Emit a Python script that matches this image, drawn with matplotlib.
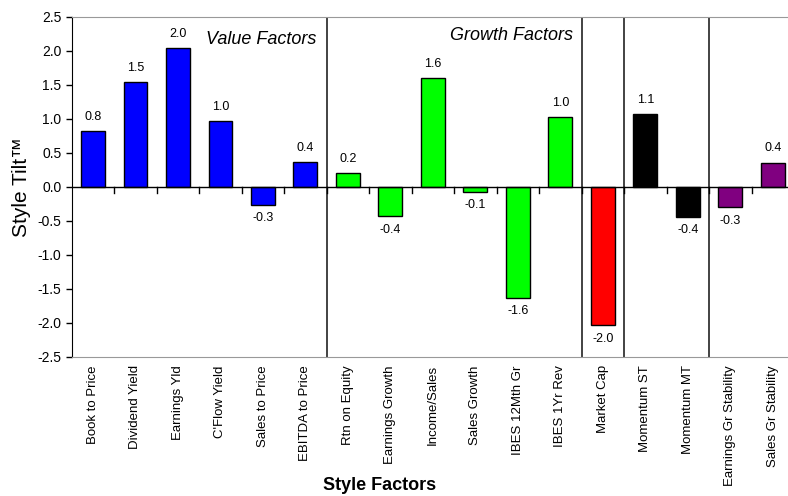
import matplotlib
matplotlib.use('Agg')
from matplotlib import pyplot as plt

factors = [
    'Book to Price', 'Dividend Yield', 'Earnings Yld', "C'Flow Yield",
    'Sales to Price', 'EBITDA to Price', 'Rtn on Equity', 'Earnings Growth',
    'Income/Sales', 'Sales Growth', 'IBES 12Mth Gr', 'IBES 1Yr Rev',
    'Market Cap', 'Momentum ST', 'Momentum MT', 'Earnings Gr Stability',
    'Sales Gr Stability',
]
tilts = [0.82, 1.54, 2.04, 0.97, -0.26, 0.37, 0.21, -0.43, 1.60, -0.07,
         -1.63, 1.03, -2.03, 1.07, -0.44, -0.30, 0.36]
group_sizes = [6, 6, 1, 2, 2]
group_colors = ['#0000ff', '#00ff00', '#ff0000', '#000000', '#800080']
y_ticks = [2.5, 2.0, 1.5, 1.0, 0.5, 0.0, -0.5, -1.0, -1.5, -2.0, -2.5]

plt.rcParams['font.family'] = ['Liberation Sans', 'DejaVu Sans']

colors = []
for size, c in zip(group_sizes, group_colors):
    colors += [c] * size

fig = plt.figure(figsize=(7.88, 4.96), dpi=100)
ax = fig.add_axes([71.7 / 788, 139 / 496, (794 - 71.7) / 788, 340 / 496])

x = list(range(len(factors)))
ax.bar(x, tilts, width=0.56, color=colors, edgecolor='black', linewidth=1, zorder=3)

for xi, v in zip(x, tilts):
    if v >= 0:
        ax.text(xi, v + 0.12, f'{v:.1f}', ha='center', va='bottom', fontsize=9)
    else:
        ax.text(xi, v - 0.11, f'{v:.1f}', ha='center', va='top', fontsize=9)

ax.set_xlim(-0.5, len(factors) - 0.5)
ax.set_ylim(-2.5, 2.5)
ax.set_yticks(y_ticks)
ax.set_yticklabels([f'{t:.1f}' for t in y_ticks], fontsize=10)
ax.tick_params(axis='y', length=4, width=1)

ax.set_xticks(x)
ax.set_xticklabels(factors, rotation=90, fontsize=9.5, va='top')
ax.tick_params(axis='x', length=0, pad=6)

# zero line with small ticks between categories
ax.axhline(0, color='black', linewidth=1, zorder=4)
for b in range(1, len(factors)):
    ax.plot([b - 0.5, b - 0.5], [0, -0.09], color='black', linewidth=1, zorder=4)

# separators between factor groups
pos = -0.5
for size in group_sizes[:-1]:
    pos += size
    ax.axvline(pos, color='#222222', linewidth=1.2, zorder=2)

for side in ['top', 'bottom', 'right']:
    ax.spines[side].set_color('#999999')
ax.spines['left'].set_color('black')

ax.text(5.27, 2.29, 'Value Factors', style='italic', fontsize=13, ha='right', va='top')
ax.text(11.3, 2.36, 'Growth Factors', style='italic', fontsize=13, ha='right', va='top')

fig.text(22 / 788, 1 - 187 / 496, 'Style Tilt\u2122', rotation=90, fontsize=15,
         ha='center', va='center')
fig.text(380 / 788, 1 - 485 / 496, 'Style Factors', fontsize=13, fontweight='bold',
         family=['Liberation Sans Narrow', 'Liberation Sans'], ha='center', va='center')

fig.savefig('out.png', dpi=100)
